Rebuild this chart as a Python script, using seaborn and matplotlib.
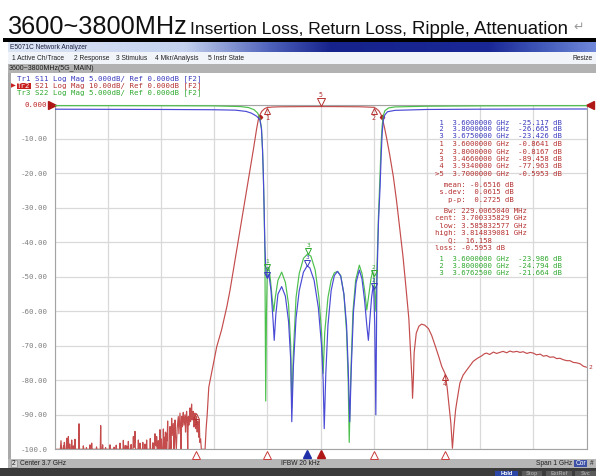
import matplotlib
matplotlib.use("Agg")
import matplotlib.pyplot as plt
import seaborn as sns
import numpy as np
from matplotlib.patches import Rectangle
from matplotlib.colors import LinearSegmentedColormap
from matplotlib import transforms

# ---------------- data ----------------
# Tr2  S21 noise floor part (3.20 - 3.41 GHz), dB, 10 dB/div
s21_floor_ghz = [
    3.2000, 3.2110, 3.2122, 3.2134, 3.2160, 3.2170, 3.2180, 3.2185, 3.2192, 3.2220,
    3.2229, 3.2240, 3.2252, 3.2260, 3.2272, 3.2280, 3.2285, 3.2292, 3.2315, 3.2323,
    3.2335, 3.2350, 3.2355, 3.2362, 3.2377, 3.2385, 3.2395, 3.2453, 3.2461, 3.2470,
    3.2535, 3.2542, 3.2550, 3.2595, 3.2600, 3.2606, 3.2660, 3.2667, 3.2675, 3.2692,
    3.2699, 3.2707, 3.2783, 3.2790, 3.2797, 3.2860, 3.2868, 3.2876, 3.2898, 3.2905,
    3.2912, 3.2953, 3.2960, 3.2967, 3.3036, 3.3043, 3.3050, 3.3113, 3.3120, 3.3127,
    3.3153, 3.3160, 3.3167, 3.3224, 3.3231, 3.3238, 3.3287, 3.3294, 3.3301, 3.3323,
    3.3330, 3.3337, 3.3349, 3.3356, 3.3363, 3.3381, 3.3388, 3.3395, 3.3433, 3.3440,
    3.3447, 3.3475, 3.3482, 3.3490, 3.3506, 3.3513, 3.3520, 3.3569, 3.3576, 3.3583,
    3.3600, 3.3607, 3.3614, 3.3653, 3.3660, 3.3667, 3.3693, 3.3700, 3.3707, 3.3725,
    3.3732, 3.3739, 3.3793, 3.3800, 3.3807, 3.3843, 3.3850, 3.3857, 3.3882, 3.3889,
    3.3897, 3.3913, 3.3920, 3.3928, 3.3943, 3.3950, 3.3957, 3.3976, 3.3983, 3.3990,
    3.4003, 3.4010, 3.4017, 3.4039, 3.4046, 3.4053, 3.4063, 3.4070, 3.4078, 3.4085,
    3.4093, 3.4100, 3.4108, 3.4117, 3.4127, 3.4135,
]
s21_floor_db = [
    -100, -100, -97.5, -100, -100, -99.0, -100, -98.0, -100, -100,
    -96.8, -100, -99.0, -96.3, -100, -100, -98.5, -100, -100, -97.3,
    -100, -100, -99.0, -100, -100, -97.1, -100, -100, -92.6, -100,
    -100, -99.0, -100, -100, -99.5, -100, -100, -98.7, -100, -100,
    -98.2, -100, -100, -99.3, -100, -100, -93.1, -100, -100, -98.7,
    -100, -100, -99.5, -100, -100, -98.7, -100, -100, -99.4, -100,
    -100, -98.8, -100, -100, -98.2, -100, -100, -97.4, -100, -100,
    -98.9, -100, -100, -99.0, -100, -100, -97.7, -100, -100, -98.6,
    -100, -100, -96.3, -99.5, -98.0, -94.8, -100, -100, -97.3, -100,
    -100, -98.2, -100, -100, -98.0, -100, -100, -98.5, -100, -100,
    -97.3, -100, -100, -96.9, -100, -100, -98.1, -100, -100, -95.5,
    -98.8, -99.0, -96.3, -100, -100, -97.5, -100, -100, -94.3, -100,
    -100, -97.0, -100, -100, -94.1, -100, -100, -96.5, -99.0, -95.0,
    -100, -100, -95.3, -97.5, -91.8, -100,
]
# Tr2  S21 rest of the sweep (3.416 - 4.20 GHz)
s21_ghz = [
    3.4163, 3.4171, 3.4180, 3.4190, 3.4202, 3.4212, 3.4233, 3.4244, 3.4255, 3.4265,
    3.4276, 3.4290, 3.4305, 3.4317, 3.4327, 3.4338, 3.4349, 3.4359, 3.4370, 3.4380,
    3.4390, 3.4400, 3.4411, 3.4421, 3.4432, 3.4442, 3.4452, 3.4463, 3.4473, 3.4483,
    3.4494, 3.4504, 3.4515, 3.4525, 3.4536, 3.4546, 3.4557, 3.4567, 3.4577, 3.4588,
    3.4598, 3.4609, 3.4620, 3.4630, 3.4640, 3.4651, 3.4661, 3.4671, 3.4682, 3.4692,
    3.4703, 3.4712, 3.4721, 3.4733, 3.4746, 3.4760, 3.4830, 3.4850, 3.4870, 3.4900,
    3.4990, 3.5050, 3.5140, 3.5240, 3.5300, 3.5400, 3.5490, 3.5610, 3.5740, 3.5800,
    3.5830, 3.5860, 3.5900, 3.5950, 3.6000, 3.6100, 3.6250, 3.6500, 3.6750, 3.7000,
    3.7250, 3.7500, 3.7750, 3.7900, 3.8000, 3.8050, 3.8100, 3.8140, 3.8170, 3.8200,
    3.8240, 3.8300, 3.8370, 3.8430, 3.8490, 3.8550, 3.8600, 3.8660, 3.8690, 3.8720,
    3.8730, 3.8745, 3.8760, 3.8800, 3.8850, 3.8900, 3.8960, 3.9030, 3.9090, 3.9150,
    3.9220, 3.9280, 3.9340, 3.9380, 3.9420, 3.9450, 3.9480, 3.9510, 3.9540, 3.9570,
    3.9620, 3.9680, 3.9750, 3.9870, 3.9950, 4.0030, 4.0080, 4.0120, 4.0180, 4.0250,
    4.0310, 4.0370, 4.0430, 4.0500, 4.0560, 4.0620, 4.0690, 4.0750, 4.0810, 4.0880,
    4.0940, 4.1000, 4.1060, 4.1130, 4.1190, 4.1250, 4.1310, 4.1380, 4.1440, 4.1500,
    4.1560, 4.1630, 4.1690, 4.1750, 4.1810, 4.1880, 4.1940, 4.2000,
]
s21_db = [
    -100, -93.4, -97.0, -100, -91.0, -96.0, -92.5, -100, -95.0, -91.5,
    -96.5, -100, -94.0, -92.0, -90.5, -95.5, -92.5, -89.5, -94.0, -100,
    -90.5, -93.5, -91.0, -89.3, -93.0, -91.5, -90.0, -95.0, -91.0, -89.0,
    -92.5, -100, -90.5, -93.0, -91.0, -88.0, -92.0, -90.0, -86.9, -91.5,
    -89.5, -89.0, -93.5, -90.0, -89.5, -94.0, -91.5, -90.5, -95.0, -92.0,
    -93.4, -96.5, -91.5, -98.0, -97.0, -100, -100, -94.0, -90.0, -82.0,
    -75.0, -70.2, -65.4, -58.6, -53.8, -44.5, -36.1, -25.0, -12.9, -7.0,
    -4.5, -3.0, -1.9, -1.2, -0.86, -0.74, -0.66, -0.62, -0.60, -0.595,
    -0.60, -0.62, -0.66, -0.74, -0.82, -1.2, -1.9, -3.0, -4.5, -6.5,
    -9.5, -14.5, -21.0, -28.0, -36.0, -44.0, -52.0, -62.0, -71.0, -80.0,
    -85.2, -80.0, -72.0, -66.3, -64.3, -63.7, -64.0, -65.0, -67.0, -69.7,
    -73.0, -76.0, -78.0, -82.0, -88.0, -92.4, -99.7, -93.4, -88.5, -85.5,
    -80.8, -78.5, -77.0, -74.5, -73.6, -72.9, -72.3, -72.1, -72.5, -71.8,
    -72.2, -71.9, -71.6, -72.0, -71.5, -71.8, -71.6, -71.9, -71.7, -72.2,
    -71.9, -72.1, -72.6, -72.4, -73.0, -72.8, -73.3, -73.2, -73.7, -73.6,
    -74.0, -74.3, -74.3, -74.8, -74.9, -75.2, -75.9, -76.2,
]

# Tr1  S11 (return loss), dB, 5 dB/div
s11_ghz = [
    3.200, 3.300, 3.400, 3.500, 3.540, 3.560, 3.570, 3.580, 3.586, 3.589,
    3.591, 3.5925, 3.594, 3.5955, 3.597, 3.598, 3.600, 3.603, 3.607, 3.611,
    3.613, 3.616, 3.620, 3.627, 3.634, 3.640, 3.644, 3.646, 3.649, 3.654,
    3.660, 3.668, 3.675, 3.680, 3.688, 3.696, 3.702, 3.705, 3.707, 3.710,
    3.714, 3.720, 3.726, 3.732, 3.738, 3.744, 3.749, 3.752, 3.755, 3.758,
    3.762, 3.767, 3.773, 3.778, 3.783, 3.787, 3.790, 3.793, 3.796, 3.799,
    3.800, 3.802, 3.804, 3.806, 3.809, 3.812, 3.814, 3.816, 3.818, 3.821,
    3.826, 3.840, 3.900, 4.000, 4.100, 4.200,
]
s11_db = [
    -0.68, -0.70, -0.72, -0.76, -0.82, -1.0, -1.25, -1.7, -2.2, -3.5,
    -6.5, -10.0, -15.0, -20.5, -23.5, -24.5, -25.1, -24.6, -27.0, -31.5,
    -34.2, -30.5, -27.5, -26.4, -27.8, -31.5, -37.0, -46.0, -38.0, -31.0,
    -27.0, -24.3, -23.4, -23.7, -25.5, -29.5, -35.0, -40.0, -47.0, -39.0,
    -32.0, -27.0, -24.8, -24.2, -24.9, -27.5, -32.0, -38.0, -46.0, -38.0,
    -30.0, -25.8, -24.0, -25.3, -28.5, -32.0, -34.2, -31.0, -28.0, -26.3,
    -26.7, -32.0, -45.0, -26.0, -17.0, -12.0, -7.5, -4.0, -2.3, -1.5,
    -1.05, -0.85, -0.72, -0.68, -0.66, -0.65,
]

# Tr3  S22 (return loss), dB, 5 dB/div
s22_ghz = [
    3.200, 3.300, 3.400, 3.500, 3.550, 3.565, 3.575, 3.582, 3.586, 3.589,
    3.591, 3.5925, 3.594, 3.5955, 3.597, 3.5985, 3.600, 3.603, 3.606, 3.609,
    3.612, 3.615, 3.620, 3.627, 3.634, 3.640, 3.644, 3.646, 3.649, 3.654,
    3.660, 3.668, 3.676, 3.682, 3.690, 3.697, 3.702, 3.705, 3.708, 3.714,
    3.720, 3.726, 3.732, 3.738, 3.744, 3.749, 3.752, 3.754, 3.757, 3.761,
    3.766, 3.773, 3.778, 3.783, 3.787, 3.791, 3.795, 3.798, 3.800, 3.802,
    3.804, 3.806, 3.809, 3.812, 3.814, 3.816, 3.818, 3.821, 3.828, 3.840,
    3.900, 4.000, 4.100, 4.200,
]
s22_db = [
    -0.17, -0.17, -0.18, -0.20, -0.30, -0.45, -0.75, -1.25, -2.0, -3.4,
    -6.5, -10.0, -15.0, -22.0, -43.0, -30.0, -24.0, -23.6, -25.5, -28.0,
    -30.0, -28.0, -25.5, -24.3, -25.8, -29.0, -35.0, -44.0, -36.0, -28.0,
    -24.5, -22.3, -21.66, -22.0, -24.0, -28.0, -33.0, -39.0, -33.0, -28.0,
    -25.5, -24.4, -24.2, -24.8, -27.5, -33.0, -40.0, -49.0, -39.0, -30.0,
    -25.5, -23.3, -24.5, -27.0, -29.8, -27.5, -25.2, -24.2, -24.8, -27.0,
    -30.0, -24.0, -16.0, -10.0, -5.5, -3.0, -1.6, -0.9, -0.5, -0.35,
    -0.25, -0.20, -0.18, -0.17,
]

# markers
s21_mk_ghz = [3.6, 3.8, 3.466, 3.934]
s21_mk_db = [-0.8641, -0.8167, -89.458, -77.963]
s21_mk_num = ["1", "2", "3", "4"]
s21_active_ghz = 3.7
s21_active_db = -0.5953
bw_ghz = [3.585832577, 3.814839081]
bw_db = [-3.5953, -3.5953]
s11_mk_ghz = [3.6, 3.8, 3.675]
s11_mk_db = [-25.117, -26.665, -23.426]
s22_mk_ghz = [3.6, 3.8, 3.67625]
s22_mk_db = [-23.986, -24.794, -21.664]
stim_open_ghz = [3.466, 3.6, 3.8, 3.934]
stim_blue_ghz = [3.675]
stim_red_ghz = [3.7]

x_grid_ghz = [3.2, 3.3, 3.4, 3.5, 3.6, 3.7, 3.8, 3.9, 4.0, 4.1, 4.2]
y_ticks_db = [0, -10, -20, -30, -40, -50, -60, -70, -80, -90, -100]
y_tick_labels = ["0.000", "-10.00", "-20.00", "-30.00", "-40.00", "-50.00",
                 "-60.00", "-70.00", "-80.00", "-90.00", "-100.0"]

headers = ["Tr1 S11 Log Mag 5.000dB/ Ref 0.000dB [F2]",
           "Tr2 S21 Log Mag 10.00dB/ Ref 0.000dB [F2]",
           "Tr3 S22 Log Mag 5.000dB/ Ref 0.000dB [F2]"]
blue_readout = [" 1  3.6000000 GHz  -25.117 dB",
                " 2  3.8000000 GHz  -26.665 dB",
                " 3  3.6750000 GHz  -23.426 dB"]
red_readout = [" 1  3.6000000 GHz  -0.8641 dB",
               " 2  3.8000000 GHz  -0.8167 dB",
               " 3  3.4660000 GHz  -89.458 dB",
               " 4  3.9340000 GHz  -77.963 dB",
               ">5  3.7000000 GHz  -0.5953 dB"]
stats_readout = ["  mean: -0.6516 dB",
                 " s.dev:  0.0615 dB",
                 "   p-p:  0.2725 dB"]
bw_readout = ["  Bw: 229.0065040 MHz",
              "cent: 3.700335829 GHz",
              " low: 3.585832577 GHz",
              "high: 3.814839081 GHz",
              "   Q:  16.158",
              "loss: -0.5953 dB"]
green_readout = [" 1  3.6000000 GHz  -23.986 dB",
                 " 2  3.8000000 GHz  -24.794 dB",
                 " 3  3.6762500 GHz  -21.664 dB"]

assert len(s21_floor_ghz) == len(s21_floor_db)
assert len(s21_ghz) == len(s21_db)
assert len(s11_ghz) == len(s11_db)
assert len(s22_ghz) == len(s22_db)

# ---------------- style ----------------
sns.set_style("white")
plt.rcParams['font.family'] = ['DejaVu Sans']
MONO = ['DejaVu Sans Mono']
SANS = ['Liberation Sans', 'DejaVu Sans']

RED_T, RED_TXT = '#c44c4c', '#b53030'
BLUE_T, BLUE_TXT = '#4a4ad6', '#3a3abf'
GREEN_T, GREEN_TXT = '#4cc04c', '#2fa82f'

W, H = 596, 476
fig = plt.figure(figsize=(W / 100, H / 100), dpi=100)
fig.patch.set_facecolor('white')


def fx(x):
    return x / W


def fy(y):
    return 1 - y / H


def box(x0, y0, x1, y1, fc, ec='none', lw=0.0, z=-5):
    fig.patches.append(Rectangle((fx(x0), fy(y1)), (x1 - x0) / W, (y1 - y0) / H,
                                 transform=fig.transFigure, facecolor=fc,
                                 edgecolor=ec, linewidth=lw, zorder=z))


def label(x, y, s, **kw):
    kw.setdefault('va', 'center')
    kw.setdefault('ha', 'left')
    fig.text(fx(x), fy(y), s, **kw)


# ---------------- page title ----------------
label(8, 34, "3600~3800MHz", fontsize=18.2, family=SANS, va='baseline', color='#111111')
label(190, 33.5, "Insertion Loss, Return Loss,", fontsize=12.5, family=SANS, va='baseline', color='#111111')
label(412, 33.5, "Ripple, Attenuation", fontsize=13.4, family=SANS, va='baseline', color='#111111')
label(573, 31, "\u21b5", fontsize=9, family=['DejaVu Sans'], va='baseline', color='#9a9a9a')
box(3, 37.5, 596, 41.5, '#000000')

# ---------------- window chrome ----------------
grad = LinearSegmentedColormap.from_list('tb', [
    (0.0, '#dde6f5'), (0.30, '#c3d1ee'), (0.45, '#4b5eb8'), (0.55, '#16238c'),
    (0.82, '#1a2896'), (0.93, '#4a64c0'), (1.0, '#7088d8')])
tb = fig.add_axes([fx(8), fy(52.5), (W - 8) / W, 11 / H])
tb.imshow(np.linspace(0, 1, 256)[None, :], cmap=grad, aspect='auto', extent=(0, 1, 0, 1))
tb.axis('off')
label(10, 47.2, "E5071C Network Analyzer", fontsize=4.8, family=SANS, color='#1a2040')

box(8, 52.5, 596, 64, '#f1f4f9', z=-5)
box(8, 63.6, 596, 64.4, '#c6c6c6', z=-4)
for xm, s in [(12, "1 Active Ch/Trace"), (74, "2 Response"), (116, "3 Stimulus"),
              (155, "4 Mkr/Analysis"), (208, "5 Instr State")]:
    label(xm, 58.6, s, fontsize=4.8, family=SANS, color='#202020')
label(593, 58.6, "Resize", fontsize=4.8, family=SANS, color='#202020', ha='right')

box(8, 64.5, 596, 73, '#b2b2b2')
label(9, 68.8, "3600~3800MHz(5G_MAIN)", fontsize=5.0, family=SANS, color='#1a1a1a')

box(8, 73, 10.5, 458.5, '#a9a9a9')

# trace headers
HFS = 5.3
CW = 0.602 * HFS * 100 / 72
hdr_y = [79.0, 86.0, 93.0]
label(17.3, hdr_y[0], headers[0], fontsize=HFS, family=MONO, color=BLUE_TXT)
box(17.0, 83.0, 31.2, 89.4, '#c82020', z=1)
label(17.3 + 4 * CW, hdr_y[1], headers[1][4:], fontsize=HFS, family=MONO, color=RED_TXT)
label(17.3, hdr_y[1], headers[1][:3], fontsize=HFS, family=MONO, color='white', zorder=5)
label(10.5, hdr_y[1], "\u25b6", fontsize=4.5, family=['DejaVu Sans'], color='#c82020')
label(17.3, hdr_y[2], headers[2], fontsize=HFS, family=MONO, color=GREEN_TXT)

# status bars
box(8, 458.5, 596, 467.5, '#b7b7b7')
box(0, 467.5, 596, 476, '#3b3b3b')
box(11, 460, 17, 466.5, '#d8d8d8', ec='#808080', lw=0.4, z=-4)
label(12.2, 463.2, "2", fontsize=4.8, family=SANS, color='#202020')
label(20, 463.2, "Center 3.7 GHz", fontsize=4.8, family=SANS, color='#202020')
label(281, 463.2, "IFBW 20 kHz", fontsize=4.8, family=SANS, color='#202020')
label(572, 463.2, "Span 1 GHz", fontsize=4.8, family=SANS, color='#202020', ha='right')
box(574, 459.5, 587, 467, '#3f52a6', z=-4)
label(580.5, 463.2, "Cor", fontsize=4.8, family=SANS, color='white', ha='center')
label(592, 463.2, "#", fontsize=4.8, family=SANS, color='#202020', ha='center')
for x0, x1, s, fc, tc in [(495, 518, "Hold", '#2c46a8', 'white'),
                          (522, 542, "Stop", '#5a5a5a', '#a0a0a0'),
                          (546, 572, "ExtRef", '#5a5a5a', '#a0a0a0'),
                          (575, 596, "Svc", '#5a5a5a', '#a0a0a0')]:
    box(x0, 471.3, x1, 477, fc, z=-4)
    label((x0 + x1) / 2, 473.8, s, fontsize=4.0, family=SANS, color=tc, ha='center',
          va='center', weight='bold')

# ---------------- the chart ----------------
L, R, T, B = 54.5, 586.5, 104.5, 449.3
ax = fig.add_axes([fx(L), fy(B), (R - L) / W, (B - T) / H])
ax.set_facecolor('white')
ax2 = ax.twinx()

sns.lineplot(x=s21_floor_ghz + s21_ghz, y=s21_floor_db + s21_db, ax=ax, color=RED_T,
             linewidth=0.85, estimator=None, sort=False, legend=False)
sns.lineplot(x=s22_ghz, y=s22_db, ax=ax2, color=GREEN_T, linewidth=0.85,
             estimator=None, sort=False, legend=False)
sns.lineplot(x=s11_ghz, y=s11_db, ax=ax2, color=BLUE_T, linewidth=0.85,
             estimator=None, sort=False, legend=False)

ax.set_xlim(3.2, 4.2)
ax.set_ylim(-100, 0)
ax2.set_ylim(-50, 0)
ax.set_xticks(x_grid_ghz)
ax.set_yticks(y_ticks_db)
ax.set_yticklabels(y_tick_labels, fontsize=5.4, family=MONO)
for t in ax.get_yticklabels():
    t.set_color('#7f7f7f')
ax.get_yticklabels()[0].set_color('#c02828')
ax.tick_params(axis='x', length=0, labelbottom=False)
ax.tick_params(axis='y', length=0, pad=5.2)
ax.grid(True, color='#d9d9d9', linewidth=0.9)
ax.set_axisbelow(True)
for sp in ax.spines.values():
    sp.set_color('#a3a3a3')
    sp.set_linewidth(0.8)
ax2.set_yticks([])
for sp in ax2.spines.values():
    sp.set_visible(False)
ax.set_xlabel('')
ax.set_ylabel('')
ax2.set_ylabel('')

# reference-level arrows
yref = transforms.blended_transform_factory(ax.transAxes, ax.transData)
ax.plot([-0.0050], [0], marker='>', ms=5.5, color='#b01818', transform=yref, clip_on=False, zorder=8)
ax.plot([1.0066], [0], marker='<', ms=5.5, color='#b01818', transform=yref, clip_on=False, zorder=8)
# trace-end tag for Tr2 at the right edge
ax.text(1.004, s21_db[-1], "2", transform=yref, fontsize=4.5, color=RED_TXT, family=MONO,
        ha='left', va='center', clip_on=False)


def marker_on(axis, f, v, color, num, below=False, ms=5.0, fs=4.8, filled=False):
    if below:
        t1 = transforms.offset_copy(axis.transData, fig=fig, x=0, y=-ms / 2, units='points')
        t2 = transforms.offset_copy(axis.transData, fig=fig, x=0, y=-ms - 0.2, units='points')
        m, va = '^', 'top'
    else:
        t1 = transforms.offset_copy(axis.transData, fig=fig, x=0, y=ms / 2, units='points')
        t2 = transforms.offset_copy(axis.transData, fig=fig, x=0, y=ms + 0.2, units='points')
        m, va = 'v', 'bottom'
    axis.plot([f], [v], marker=m, ms=ms, mfc=color if filled else 'none', mec=color,
              mew=0.7, transform=t1, clip_on=False, zorder=9, linestyle='none')
    axis.text(f, v, num, transform=t2, ha='center', va=va, fontsize=fs, color=color,
              family=MONO, clip_on=False, zorder=9)


for f, v, n in zip(s21_mk_ghz, s21_mk_db, s21_mk_num):
    marker_on(ax, f, v, RED_TXT, n, below=True, ms=5.0)
marker_on(ax, s21_active_ghz, s21_active_db, RED_TXT, "5", below=False, ms=6.0)
ax.plot(bw_ghz, bw_db, marker='D', ms=2.2, color='#b02020', linestyle='none', zorder=9)
for f, v, n in zip(s11_mk_ghz, s11_mk_db, ["1", "2", "3"]):
    marker_on(ax2, f, v, BLUE_TXT, n, ms=4.0, fs=4.3)
for f, v, n in zip(s22_mk_ghz, s22_mk_db, ["1", "2", "3"]):
    marker_on(ax2, f, v, GREEN_TXT, n, ms=4.0, fs=4.3)

# stimulus marker indicators below the grid
xstim = transforms.blended_transform_factory(ax.transData, ax.transAxes)
ax.plot(stim_open_ghz, [-0.0155] * len(stim_open_ghz), marker='^', ms=5.5, mfc='none',
        mec='#c83c3c', mew=0.7, linestyle='none', transform=xstim, clip_on=False)
ax.plot(stim_blue_ghz, [-0.0150] * len(stim_blue_ghz), marker='^', ms=5.5, color='#2030a8',
        linestyle='none', transform=xstim, clip_on=False)
ax.plot(stim_red_ghz, [-0.0150] * len(stim_red_ghz), marker='^', ms=5.5, color='#b01818',
        linestyle='none', transform=xstim, clip_on=False)

# marker readouts
X0 = 435.0
for i, s in enumerate(blue_readout):
    label(X0, 122.7 + 6.7 * i, s, fontsize=5.2, family=MONO, color=BLUE_TXT, zorder=10)
for i, s in enumerate(red_readout):
    label(X0, 144.3 + 7.35 * i, s, fontsize=5.2, family=MONO, color=RED_TXT, zorder=10)
for i, s in enumerate(stats_readout):
    label(X0, 185.0 + 7.35 * i, s, fontsize=5.2, family=MONO, color=RED_TXT, zorder=10)
for i, s in enumerate(bw_readout):
    label(X0, 210.7 + 7.4 * i, s, fontsize=5.2, family=MONO, color=RED_TXT, zorder=10)
for i, s in enumerate(green_readout):
    label(X0, 259.3 + 7.0 * i, s, fontsize=5.2, family=MONO, color=GREEN_TXT, zorder=10)

fig.savefig('out.png', dpi=100, facecolor='white')
